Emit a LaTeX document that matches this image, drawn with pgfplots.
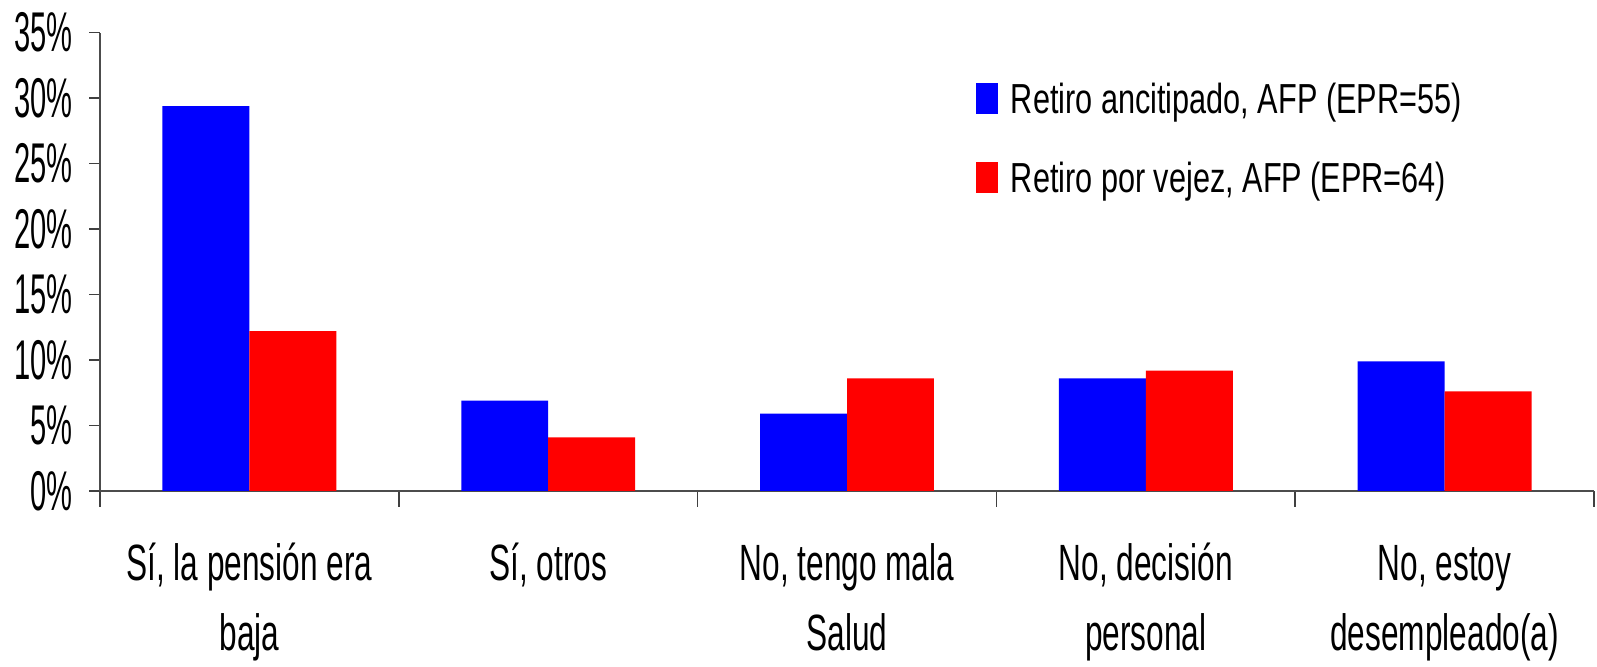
\documentclass[border=0pt]{standalone}
\usepackage{fontspec}
\setmainfont{Liberation Sans}[FakeStretch=0.62]
\newfontfamily\legendfont{Liberation Sans}[FakeStretch=0.73]
\newfontfamily\tickfont{Liberation Sans}[FakeStretch=0.52]
\usepackage{pgfplots}
\pgfplotsset{compat=1.18}
\begin{document}
\begin{tikzpicture}
\begin{axis}[
  name=ax,
  width=747pt, height=229.15pt, scale only axis,
  ybar=0pt, bar width=0.291,
  xmin=-0.5, xmax=4.5, ymin=0, ymax=35,
  axis x line*=bottom, axis y line*=left,
  xtick={0,1,2,3,4},
  xticklabels={{\rule{0pt}{19pt}Sí, la pensión era\\baja},
               {\rule{0pt}{19pt}Sí, otros\\\mbox{}},
               {\rule{0pt}{19pt}No, tengo mala\\Salud},
               {\rule{0pt}{19pt}No, decisión\\personal},
               {\rule{0pt}{19pt}No, estoy\\desempleado(a)}},
  major x tick style={draw=none},
  minor xtick={-0.5,0.5,1.5,2.5,3.5,4.5},
  tick align=outside,
  major tick length=5.35pt, minor tick length=8pt,
  ytick={0,5,...,35},
  yticklabel={\pgfmathprintnumber{\tick}\%},
  /pgf/number format/assume math mode=true,
  tick style={black!75, line width=0.8pt},
  axis line style={black!70, line width=0.9pt},
  xticklabel style={font=\fontsize{25.5}{35}\selectfont, align=center, anchor=north, inner sep=0pt, yshift=-20pt},
  yticklabel style={font=\tickfont\fontsize{28}{30}\selectfont, anchor=east, inner sep=0pt, xshift=-8.2pt},
  legend image code/.code={\fill[#1] (0pt,-7.75pt) rectangle (11pt,7.75pt);},
  legend style={at={(0.586,0.900)}, anchor=north west, draw=none, fill=none,
    inner sep=0pt, row sep=19.4pt, column sep=6.5pt,
    font=\legendfont\fontsize{21}{25}\selectfont,
    nodes={inner sep=0pt, text height=17.5pt, text depth=2.5pt}},
  legend cell align=left,
  clip=false,
]
\addplot[fill=blue, draw=none] coordinates {(0,29.4) (1,6.9) (2,5.9) (3,8.6) (4,9.9)};
\addplot[fill=red, draw=none] coordinates {(0,12.2) (1,4.1) (2,8.6) (3,9.2) (4,7.6)};
\legend{{Retiro ancitipado, AFP (EPR=55)}, {Retiro por vejez, AFP (EPR=64)}}
\end{axis}
\pgfresetboundingbox
\path[use as bounding box] ([xshift=-50pt,yshift=-88pt]ax.south west) rectangle ([xshift=1.5pt,yshift=16.35pt]ax.north east);
\end{tikzpicture}
\end{document}
